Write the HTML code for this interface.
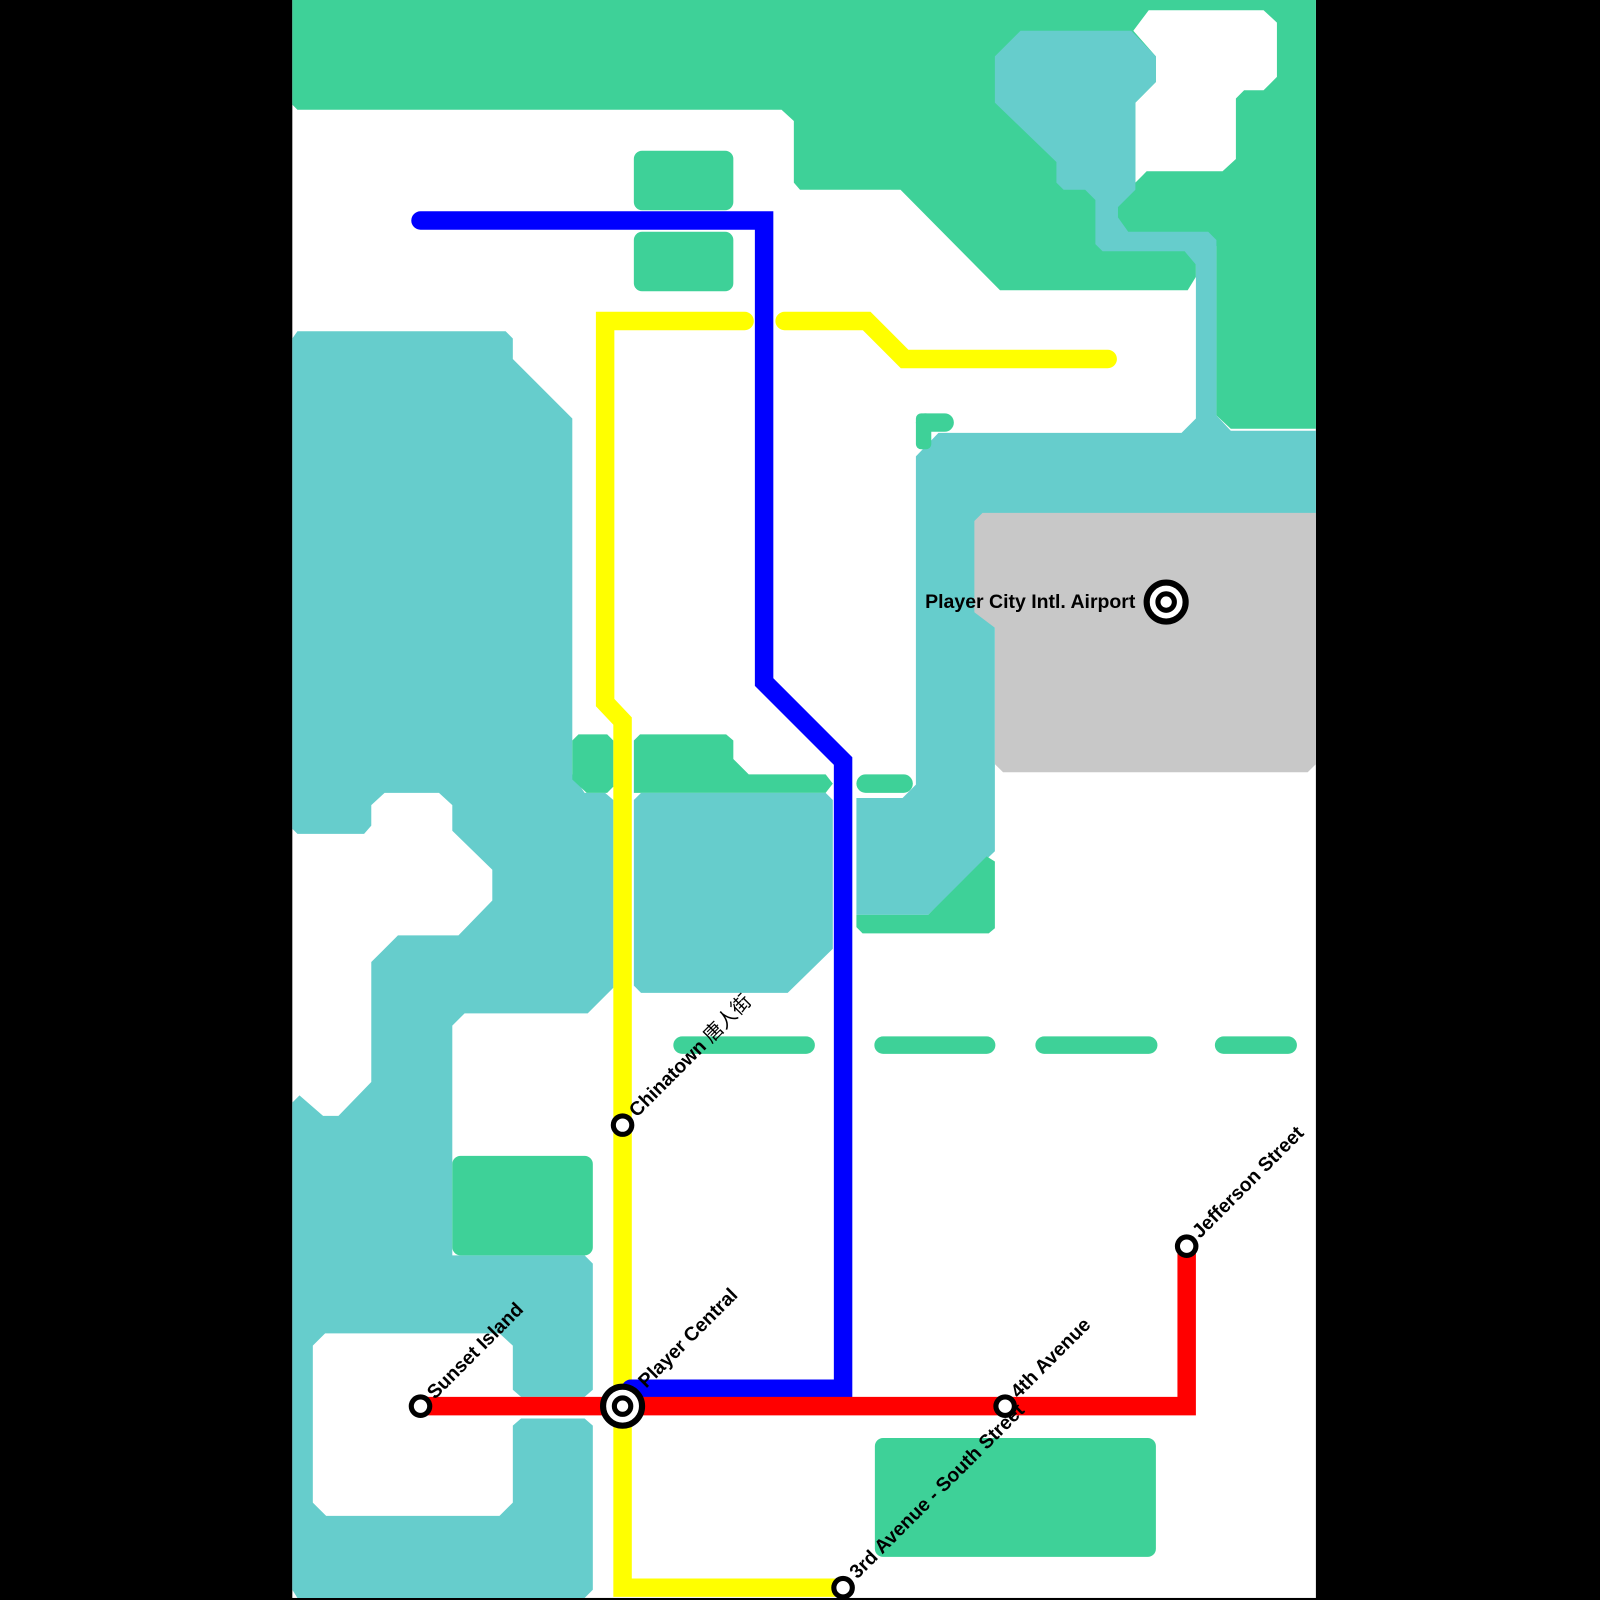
<!DOCTYPE html>
<html><head><meta charset="utf-8"><style>
html,body{margin:0;padding:0;background:#000;}
svg{display:block;}
text{font-family:"Liberation Sans","Noto Sans CJK SC",sans-serif;font-weight:bold;font-size:19px;fill:#000;}
</style></head><body>
<svg width="1600" height="1600" viewBox="0 0 1560 1560" xmlns="http://www.w3.org/2000/svg">
<rect x="0" y="0" width="1560" height="1560" fill="#000"/>
<rect x="285" y="0" width="998" height="1558" fill="#fff"/>
<polygon fill="#3ed198" points="285,0 1283,0 1283,418 1200,418 1186,405 1186,240 1166,240 1166,270 1158,283 975,283 878,185 780,185 774,178 774,118 762,107 290,107 285,102"/>
<polygon fill="#fff" points="1120,10 1232,10 1245,22 1245,75 1232,88 1213,88 1205,96 1205,155 1192,167 1118,167 1107,178 1107,100 1127,80 1127,55 1105,30"/>
<polygon fill="#66cdcc" points="893,445 915,422 1152,422 1166,408 1166,258 1155,245 1075,245 1068,238 1068,195 1058,185 1037,185 1030,178 1030,158 970,100 970,55 995,30 1103,30 1127,55 1127,80 1107,100 1107,185 1090,202 1090,212 1100,226 1178,226 1186,234 1186,405 1200,420 1283,420 1283,505 970,505 970,830 905,892 835,892 835,778 880,778 893,765"/>
<polygon fill="#c8c8c8" points="958,500 1283,500 1283,745 1275,753 978,753 970,745 970,612 950,597 950,508"/>
<rect x="893" y="403" width="37" height="18" rx="9" fill="#3ed198"/>
<rect x="893" y="403" width="15" height="35" rx="5" fill="#3ed198"/>
<polygon fill="#3ed198" points="835,892 905,892 962,835 970,840 970,905 964,910 841,910 835,904"/>
<rect x="835" y="755" width="55" height="18" rx="9" fill="#3ed198"/>
<rect x="618" y="147" width="97" height="58" rx="8" fill="#3ed198"/>
<rect x="618" y="226" width="97" height="58" rx="8" fill="#3ed198"/>
<polygon fill="#66cdcc" points="285,330 290,323 493,323 500,330 500,350 558,408 558,755 570,773 590,773 598,780 598,963 573,988 453,988 441,1000 441,1224 570,1224 578,1232 578,1355 570,1362 508,1362 500,1355 500,1312 487,1300 317,1300 305,1312 305,1465 318,1478 487,1478 500,1465 500,1390 508,1383 570,1383 578,1390 578,1550 570,1558 290,1558 285,1550 285,1075 292,1068 315,1088 330,1088 362,1055 362,938 388,912 447,912 480,878 480,848 441,810 441,785 428,773 375,773 362,785 362,805 355,813 290,813 285,808"/>
<rect x="441" y="1127" width="137" height="97" rx="8" fill="#3ed198"/>
<polygon fill="#3ed198" points="558,722 564,716 592,716 598,722 598,767 592,773 572,773 558,760"/>
<polygon fill="#3ed198" points="618,722 624,716 708,716 715,722 715,740 730,755 805,755 812,764 805,773 618,773"/>
<polygon fill="#66cdcc" points="618,780 625,773 805,773 812,780 812,925 768,968 625,968 618,961"/>
<g stroke="#3ed198" stroke-width="17" stroke-linecap="round">
<line x1="665" y1="1019" x2="786" y2="1019"/>
<line x1="861" y1="1019" x2="962" y2="1019"/>
<line x1="1018" y1="1019" x2="1120" y2="1019"/>
<line x1="1193" y1="1019" x2="1256" y2="1019"/>
</g>
<rect x="853" y="1402" width="274" height="116" rx="8" fill="#3ed198"/>
<g fill="none" stroke-width="18" stroke-linejoin="miter">
<path d="M726 313 H590 V685 L607 703 V1548 H822" stroke="#ffff00" stroke-linecap="round"/>
<path d="M765 313 H845 L882 350 H1080" stroke="#ffff00" stroke-linecap="round"/>
<path d="M410 215 H745 V665 L822 742 V1354 H615" stroke="#0000ff" stroke-linecap="round"/>
<path d="M410 1371 H1157 V1215" stroke="#ff0000"/>
</g>
<g fill="#fff" stroke="#000" stroke-width="5">
<circle cx="410" cy="1371" r="9"/>
<circle cx="607" cy="1097" r="9"/>
<circle cx="980" cy="1371" r="9"/>
<circle cx="1157" cy="1215" r="9"/>
<circle cx="822" cy="1548" r="9"/>
<circle cx="607" cy="1371" r="19" stroke-width="6"/>
<circle cx="607" cy="1371" r="8" stroke-width="5"/>
<circle cx="1137" cy="587" r="19" stroke-width="6"/>
<circle cx="1137" cy="587" r="8" stroke-width="5"/>
</g>
<text transform="translate(424,1365) rotate(-45)">Sunset Island</text>
<text transform="translate(630,1354) rotate(-45)">Player Central</text>
<text transform="translate(621,1090) rotate(-45)">Chinatown <tspan font-weight="normal">唐人街</tspan></text>
<text transform="translate(993,1364) rotate(-45)">4th Avenue</text>
<text transform="translate(1170,1208) rotate(-45)">Jefferson Street</text>
<text transform="translate(836,1540) rotate(-45)">3rd Avenue - South Street</text>
<text x="1107" y="593" text-anchor="end">Player City Intl. Airport</text>
</svg>
</body></html>
